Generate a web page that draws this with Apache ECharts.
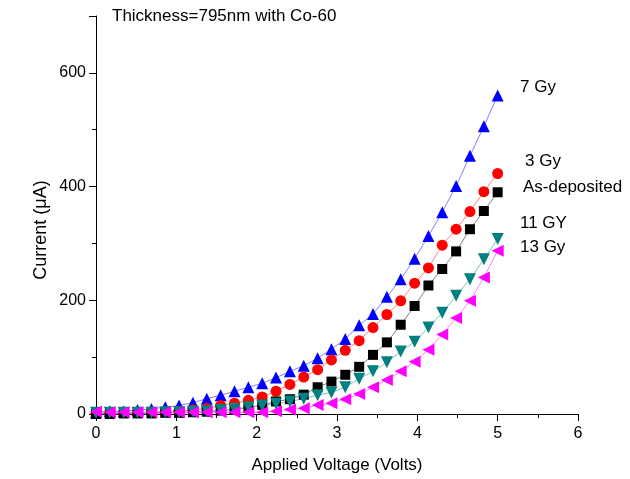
<!DOCTYPE html>
<html>
<head>
<meta charset="utf-8">
<script src="https://cdn.jsdelivr.net/npm/echarts@6/dist/echarts.min.js"></script>
<style>html,body{margin:0;padding:0;background:#fff}#c{width:630px;height:479px}</style>
</head>
<body>
<div id="c"></div>
<script>
// Voltage values: 30 points from 0 to 5 V
const voltage = [0,0.172,0.345,0.517,0.690,0.862,1.034,1.207,1.379,1.552,1.724,1.897,2.069,2.241,2.414,2.586,2.759,2.931,3.103,3.276,3.448,3.621,3.793,3.966,4.138,4.310,4.483,4.655,4.828,5.0];
const gy7 = [3,5,5,7,9,12,15,20,27,33,40,47,54,64,75,85,98,114,132,156,176,206,237,273,313,355,401,454,506,560];
const gy3 = [1,1,2,2,3,4,5,7,10,15,19,24,30,40,52,65,78,95,112,129,152,175,199,230,257,297,325,356,391,423];
const asDeposited = [0,0,1,1,1,2,2,3,4,6,8,11,16,22,26,34,47,57,69,83,104,126,157,190,226,255,286,325,357,390];
const gy11 = [2,2,2,2,2,3,3,4,5,7,9,12,15,18,22,27,33,38,47,62,75,91,110,127,152,178,208,237,272,308];
const gy13 = [4,3,3,3,3,3,3,3,3,3,3,3,3,5,8,10,16,19,26,35,47,60,75,92,113,140,169,199,240,287];
const xTicks = [0,1,2,3,4,5,6];
const yTicks = [0,200,400,600];
const seriesNames = ['7 Gy','3 Gy','As-deposited','11 GY','13 Gy'];

const pairs = arr => voltage.map((v,i)=>[v,arr[i]]);
const F = 'Liberation Sans, Arial, sans-serif';
const chart = echarts.init(document.getElementById('c'), null, {renderer:'canvas'});
function mk(name, data, color, lineColor, symbol, size, rot){
  return {name, type:'line', data:pairs(data), symbol, symbolSize:size, symbolRotate:rot||0,
    itemStyle:{color}, lineStyle:{color:lineColor, width:1}, z:2};
}
chart.setOption({
  animation:false,
  backgroundColor:'#fff',
  grid:{left:96,right:52,top:16,bottom:63},
  xAxis:{type:'value',min:0,max:6,interval:1,
    axisLine:{show:true,lineStyle:{color:'#000',width:1}},
    axisTick:{show:true,length:7,lineStyle:{color:'#000'}},
    minorTick:{show:true,splitNumber:2,length:4,lineStyle:{color:'#000'}},
    splitLine:{show:false},
    axisLabel:{color:'#000',fontFamily:F,fontSize:16,margin:12,
      formatter:v=> xTicks.indexOf(v)>=0 ? String(v) : ''},
    name:'Applied Voltage (Volts)',nameLocation:'middle',nameGap:43,
    nameTextStyle:{color:'#000',fontFamily:F,fontSize:17}},
  yAxis:{type:'value',min:0,max:700,interval:200,
    axisLine:{show:true,lineStyle:{color:'#000',width:1}},
    axisTick:{show:true,length:7,lineStyle:{color:'#000'}},
    minorTick:{show:true,splitNumber:2,length:4,lineStyle:{color:'#000'}},
    splitLine:{show:false},
    axisLabel:{color:'#000',fontFamily:F,fontSize:16,margin:10,
      formatter:v=> yTicks.indexOf(v)>=0 ? String(v) : ''}},
  series:[
    mk(seriesNames[0], gy7, '#0000ff', '#8080ff', 'triangle', 12, 0),
    mk(seriesNames[1], gy3, '#ff0000', '#ff8080', 'circle', 11, 0),
    mk(seriesNames[2], asDeposited, '#000000', '#808080', 'rect', 10, 0),
    mk(seriesNames[3], gy11, '#008080', '#80c0c0', 'triangle', 12, 180),
    mk(seriesNames[4], gy13, '#ff00ff', '#ff80ff', 'triangle', 12, 90)
  ],
  graphic:[
    {type:'text',x:41,y:230,rotation:Math.PI/2,style:{text:'Current (\u03bcA)',font:'18px '+F,fill:'#000',textAlign:'center',textVerticalAlign:'middle'}},
    {type:'text',left:112,top:8,style:{text:'Thickness=795nm with Co-60',font:'17px '+F,fill:'#000'}},
    {type:'text',left:520,top:79,style:{text:seriesNames[0],font:'17px '+F,fill:'#000'}},
    {type:'text',left:525,top:153,style:{text:seriesNames[1],font:'17px '+F,fill:'#000'}},
    {type:'text',left:523,top:179,style:{text:seriesNames[2],font:'17px '+F,fill:'#000'}},
    {type:'text',left:520,top:215,style:{text:seriesNames[3],font:'17px '+F,fill:'#000'}},
    {type:'text',left:520,top:239,style:{text:seriesNames[4],font:'17px '+F,fill:'#000'}}
  ]
});
</script>
</body>
</html>
